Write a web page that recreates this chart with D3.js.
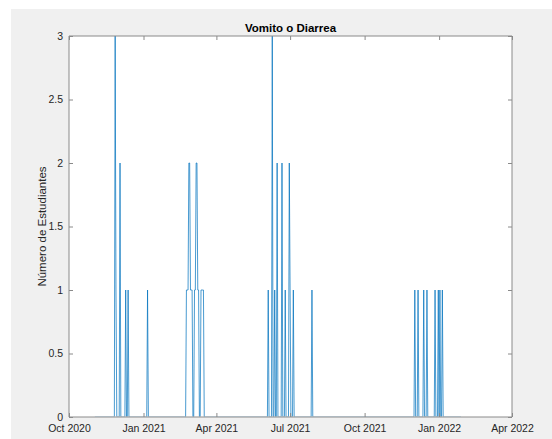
<!DOCTYPE html>
<html>
<head>
<meta charset="utf-8">
<script src="https://cdn.jsdelivr.net/npm/d3@7"></script>
<style>
  html, body { margin: 0; padding: 0; background: #ffffff; }
  svg { display: block; }
  text { font-family: "Liberation Sans", Arial, Helvetica, sans-serif; }
</style>
</head>
<body>
<svg id="chart" width="552" height="439"></svg>
<script>
// Daily case counts (dates with the surrounding zero readings)
const dates = [
  "2020-11-02",
  "2020-11-26", "2020-11-27", "2020-11-28", "2020-11-29",
  "2020-12-02", "2020-12-03", "2020-12-04",
  "2020-12-09", "2020-12-10", "2020-12-11",
  "2020-12-12", "2020-12-13", "2020-12-14",
  "2021-01-05", "2021-01-06", "2021-01-07",
  "2021-02-22", "2021-02-23", "2021-02-24", "2021-02-25", "2021-02-26", "2021-02-27",
  "2021-02-28", "2021-03-01", "2021-03-02", "2021-03-03", "2021-03-04",
  "2021-03-05", "2021-03-06", "2021-03-07", "2021-03-08", "2021-03-09", "2021-03-10",
  "2021-03-11", "2021-03-12", "2021-03-13", "2021-03-14", "2021-03-15", "2021-03-16", "2021-03-17",
  "2021-06-03", "2021-06-04", "2021-06-05",
  "2021-06-08", "2021-06-09", "2021-06-10",
  "2021-06-11", "2021-06-12", "2021-06-13",
  "2021-06-14", "2021-06-15", "2021-06-16",
  "2021-06-20", "2021-06-21", "2021-06-22",
  "2021-06-24", "2021-06-25", "2021-06-26",
  "2021-06-29", "2021-06-30", "2021-07-01", "2021-07-02",
  "2021-07-04", "2021-07-05", "2021-07-06",
  "2021-07-27", "2021-07-28", "2021-07-29",
  "2021-12-01", "2021-12-02", "2021-12-03",
  "2021-12-05", "2021-12-06", "2021-12-07",
  "2021-12-12", "2021-12-13", "2021-12-14",
  "2021-12-16", "2021-12-17", "2021-12-18",
  "2021-12-26", "2021-12-27", "2021-12-28",
  "2021-12-30", "2021-12-31", "2022-01-01",
  "2022-01-02", "2022-01-03",
  "2022-01-04", "2022-01-05", "2022-01-06",
  "2022-01-28"
];
const counts = [
  0,
  0, 3, 1, 0,
  0, 2, 0,
  0, 1, 0,
  0, 1, 0,
  0, 1, 0,
  0, 1, 1, 1, 2, 2,
  1, 1, 1, 0, 0,
  1, 1, 2, 2, 1, 1,
  0, 0, 1, 1, 1, 1, 0,
  0, 1, 0,
  0, 3, 0,
  0, 1, 0,
  0, 2, 0,
  0, 2, 0,
  0, 1, 0,
  0, 2, 1, 0,
  0, 1, 0,
  0, 1, 0,
  0, 1, 0,
  0, 1, 0,
  0, 1, 0,
  0, 1, 0,
  0, 1, 0,
  0, 1, 0,
  1, 0,
  0, 1, 0,
  0
];
const xTickDates = ["2020-10-01", "2021-01-01", "2021-04-01", "2021-07-01", "2021-10-01", "2022-01-01", "2022-04-01"];
const xTickLabels = ["Oct 2020", "Jan 2021", "Apr 2021", "Jul 2021", "Oct 2021", "Jan 2022", "Apr 2022"];
const yTicks = [0, 0.5, 1, 1.5, 2, 2.5, 3];
const titleText = "Vomito o Diarrea";
const yLabelText = "Número de Estudiantes";

const parse = d3.utcParse("%Y-%m-%d");
const points = dates.map((d, i) => ({ date: parse(d), value: counts[i] }));

const svg = d3.select("#chart");
const W = 552, H = 439;
const plot = { left: 69, right: 512, top: 36, bottom: 417 };

// figure background
svg.append("rect").attr("x", 11).attr("y", 9).attr("width", W - 11).attr("height", H - 9)
  .attr("fill", "#f0f0f0");
svg.append("rect").attr("x", plot.left).attr("y", plot.top)
  .attr("width", plot.right - plot.left).attr("height", plot.bottom - plot.top)
  .attr("fill", "#ffffff");

const x = d3.scaleUtc()
  .domain([parse(xTickDates[0]), parse(xTickDates[xTickDates.length - 1])])
  .range([plot.left, plot.right]);
const y = d3.scaleLinear().domain([0, 3]).range([plot.bottom, plot.top]);

// keep the trace inside the axes box; the zero run sits under the frame
svg.append("defs").append("clipPath").attr("id", "plot-clip")
  .append("rect")
  .attr("x", plot.left).attr("y", plot.top - 1)
  .attr("width", plot.right - plot.left).attr("height", plot.bottom - plot.top + 0.5);

// data line
const line = d3.line().x(d => x(d.date)).y(d => y(d.value));
svg.append("path").datum(points)
  .attr("d", line)
  .attr("clip-path", "url(#plot-clip)")
  .attr("fill", "none")
  .attr("stroke", "#0072bd")
  .attr("stroke-width", 0.9)
  .attr("stroke-linejoin", "miter")
  .attr("opacity", 0.8);

const axisColor = "#8a8a8a";
const tickLen = 4;
const xTicks = xTickDates.map(parse);

// bottom axis
const axBottom = svg.append("g").attr("transform", `translate(0,${plot.bottom})`)
  .call(d3.axisBottom(x).tickValues(xTicks).tickSize(-tickLen).tickPadding(8)
    .tickFormat((d, i) => xTickLabels[i]));
// top axis (ticks only)
const axTop = svg.append("g").attr("transform", `translate(0,${plot.top})`)
  .call(d3.axisTop(x).tickValues(xTicks).tickSize(-tickLen).tickFormat(""));
// left axis
const axLeft = svg.append("g").attr("transform", `translate(${plot.left},0)`)
  .call(d3.axisLeft(y).tickValues(yTicks).tickSize(-tickLen).tickPadding(6)
    .tickFormat(d3.format("~g")));
// right axis (ticks only)
const axRight = svg.append("g").attr("transform", `translate(${plot.right},0)`)
  .call(d3.axisRight(y).tickValues(yTicks).tickSize(-tickLen).tickFormat(""));

[axBottom, axTop, axLeft, axRight].forEach(g => {
  g.selectAll(".domain").attr("stroke", axisColor).attr("stroke-width", 1);
  g.selectAll(".tick line").attr("stroke", axisColor).attr("stroke-width", 1);
  g.selectAll("text").attr("fill", "#262626").attr("font-size", "10.5px")
    .attr("font-family", "'Liberation Sans', Arial, sans-serif");
});
axLeft.selectAll("text").attr("dy", "0.3em");
// plain box frame without outer tick caps
[axBottom, axTop].forEach(g => g.select(".domain").attr("d", `M${plot.left},0H${plot.right}`));
[axLeft, axRight].forEach(g => g.select(".domain").attr("d", `M0,${plot.top}V${plot.bottom}`));

// title
svg.append("text")
  .attr("x", (plot.left + plot.right) / 2).attr("y", 32)
  .attr("text-anchor", "middle")
  .attr("font-size", "11.5px").attr("font-weight", "bold").attr("fill", "#000")
  .text(titleText);

// y-axis label
svg.append("text")
  .attr("transform", `translate(46,${(plot.top + plot.bottom) / 2}) rotate(-90)`)
  .attr("text-anchor", "middle")
  .attr("font-size", "11.5px").attr("fill", "#262626")
  .text(yLabelText);
</script>
</body>
</html>
